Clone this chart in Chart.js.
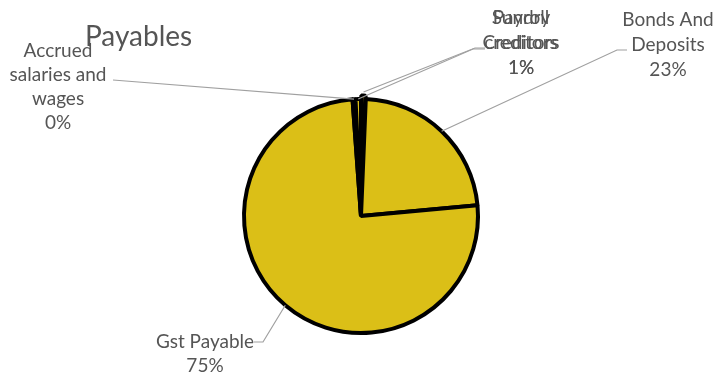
<!DOCTYPE html>
<html>
<head>
<meta charset="utf-8">
<script src="https://cdn.jsdelivr.net/npm/chart.js@4.4.1/dist/chart.umd.min.js"></script>
<style>
  html, body { margin: 0; padding: 0; background: #ffffff; }
  #wrap { width: 713px; height: 374px; position: relative; }
</style>
</head>
<body>
<div id="wrap"><canvas id="c" width="713" height="374"></canvas></div>
<script>
// ---- data ----
const categories = ["Payroll Creditors", "Bonds And Deposits", "Gst Payable", "Accrued salaries and wages", "Sundry creditors"];
const values = [0.65, 22.9, 75.3, 0.4, 0.75];
const chartTitle = "Payables";

const labelLines = [
  ["Payroll", "Creditors"],
  ["Bonds And", "Deposits"],
  ["Gst Payable"],
  ["Accrued", "salaries and", "wages"],
  ["Sundry", "creditors"]
];

const FONT = "Lato, 'Liberation Sans', sans-serif";
const TEXT = "#555555";
const LEADER = "#A0A0A0";

const labelLayout = [
  { cx: 521, y0: 18, lh: 25, elbow: [475, 48], end: [485, 48] },
  { cx: 668, y0: 20, lh: 25, elbow: [617, 50], end: [627, 50] },
  { cx: 205, y0: 342, lh: 24, elbow: [263, 342], end: [254, 342] },
  { cx: 58, y0: 51, lh: 24, elbow: [113, 80], end: [113, 80] },
  { cx: 521, y0: 18, lh: 25, elbow: [473, 49], end: [485, 49] }
];

const total = values.reduce((a, b) => a + b, 0);

const labelPlugin = {
  id: 'excelLabels',
  afterDraw(chart) {
    const ctx = chart.ctx;
    const meta = chart.getDatasetMeta(0);
    ctx.save();
    ctx.fillStyle = TEXT;
    ctx.font = "28px " + FONT;
    ctx.textAlign = "left";
    ctx.textBaseline = "middle";
    ctx.fillText(chartTitle, 85, 37);

    meta.data.forEach((arc, i) => {
      const p = arc.getProps(['x', 'y', 'startAngle', 'endAngle', 'outerRadius']);
      const mid = (p.startAngle + p.endAngle) / 2;
      const off = arc.options.offset || 0;
      const ex = p.x + Math.cos(mid) * (p.outerRadius + off);
      const ey = p.y + Math.sin(mid) * (p.outerRadius + off);
      const L = labelLayout[i];
      ctx.strokeStyle = LEADER;
      ctx.lineWidth = 1.2;
      ctx.beginPath();
      ctx.moveTo(L.end[0], L.end[1]);
      ctx.lineTo(L.elbow[0], L.elbow[1]);
      ctx.lineTo(ex, ey);
      ctx.stroke();
      ctx.fillStyle = TEXT;
      ctx.font = "19px " + FONT;
      ctx.textAlign = "center";
      ctx.textBaseline = "middle";
      const pct = Math.round(values[i] / total * 100) + "%";
      const lines = labelLines[i].concat([pct]);
      lines.forEach((t, k) => ctx.fillText(t, L.cx, L.y0 + k * L.lh));
    });
    ctx.restore();
  }
};

new Chart(document.getElementById('c'), {
  type: 'pie',
  data: {
    labels: categories,
    datasets: [{
      data: values,
      backgroundColor: "#DBBF17",
      borderColor: "#000000",
      borderWidth: 4,
      offset: [7, 0, 0, 0, 0]
    }]
  },
  options: {
    responsive: false,
    animation: false,
    layout: { padding: { left: 211, right: 202, top: 93.5, bottom: 35.5 } },
    plugins: {
      legend: { display: false },
      title: { display: false },
      tooltip: { enabled: false }
    }
  },
  plugins: [labelPlugin]
});
</script>
</body>
</html>
